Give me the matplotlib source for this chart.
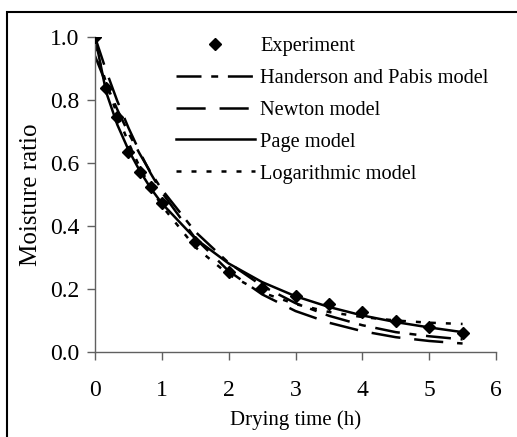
import numpy as np
import matplotlib
matplotlib.use('Agg')
import matplotlib.pyplot as plt
from matplotlib.patches import Rectangle

# Tempi di essiccazione (h) e rapporto di umidità misurato
tempo = [0, 0.167, 0.333, 0.5, 0.667, 0.833, 1.0, 1.5, 2.0, 2.5, 3.0, 3.5, 4.0, 4.5, 5.0, 5.5]
mr_exp = [1.0, 0.837, 0.747, 0.636, 0.570, 0.525, 0.472, 0.350, 0.255, 0.202,
          0.178, 0.152, 0.128, 0.099, 0.080, 0.059]

# Valori previsti dai modelli negli stessi istanti
mr_hp = [0.940, 0.851, 0.770, 0.696, 0.630, 0.570, 0.516, 0.382, 0.283, 0.210,
         0.155, 0.115, 0.085, 0.063, 0.050, 0.040]
mr_newton = [1.0, 0.893, 0.797, 0.712, 0.636, 0.567, 0.507, 0.361, 0.257, 0.183,
             0.130, 0.093, 0.066, 0.047, 0.035, 0.027]
mr_page = [1.0, 0.825, 0.722, 0.642, 0.576, 0.520, 0.472, 0.360, 0.281, 0.222,
           0.177, 0.143, 0.116, 0.095, 0.078, 0.063]
mr_log = [0.970, 0.854, 0.753, 0.665, 0.588, 0.522, 0.464, 0.333, 0.246, 0.189,
          0.152, 0.127, 0.111, 0.100, 0.093, 0.089]

xticks = [0, 1, 2, 3, 4, 5, 6]
yticks = [0.0, 0.2, 0.4, 0.6, 0.8, 1.0]

plt.rcParams['font.family'] = 'Liberation Serif'
plt.rcParams['lines.scale_dashes'] = False

fig = plt.figure(figsize=(5.17, 4.37), dpi=100)
ax = fig.add_axes([95/517, 85/437, (496-95)/517, (352-37)/437])

lw = 1.8
ax.plot(tempo, mr_exp, linestyle='', marker='D', markersize=6.5, color='black', label='Experiment', zorder=5)
ax.plot(tempo, mr_hp, color='black', lw=lw, linestyle=(0, (18, 7, 5, 7)), label='Handerson and Pabis model')
ax.plot(tempo, mr_newton, color='black', lw=lw, linestyle=(0, (21, 10)), label='Newton model')
ax.plot(tempo, mr_page, color='black', lw=lw, linestyle='-', label='Page model')
ax.plot(tempo, mr_log, color='black', lw=lw, linestyle=(0, (3.6, 7.2)), label='Logarithmic model')

ax.set_xlim(0, 6)
ax.set_ylim(0, 1.0)
ax.set_xticks(xticks)
ax.set_yticks(yticks)
ax.set_yticklabels(['%.1f' % v for v in yticks])
ax.spines['top'].set_visible(False)
ax.spines['right'].set_visible(False)
for s in ('left', 'bottom'):
    ax.spines[s].set_color('#606060')
    ax.spines[s].set_linewidth(1.0)
ax.tick_params(direction='out', length=6, width=1.0, color='#606060', labelsize=17)
ax.tick_params(axis='x', pad=14)
ax.tick_params(axis='y', pad=5)
ax.set_xlabel('Drying time (h)', fontsize=15, labelpad=7)
ax.set_ylabel('Moisture ratio', fontsize=18, labelpad=6)

ax.legend(loc='upper left', bbox_to_anchor=(0.155, 1.06), frameon=False, fontsize=14.7,
          handlelength=3.9, handletextpad=0.25, labelspacing=0.62)

# cornice esterna
fig.patches.append(Rectangle((7/517, -0.1), 1.2, 1 - 12.5/437 + 0.1, transform=fig.transFigure,
                             fill=False, edgecolor='black', linewidth=1.5))

fig.savefig('out.png', dpi=100)
